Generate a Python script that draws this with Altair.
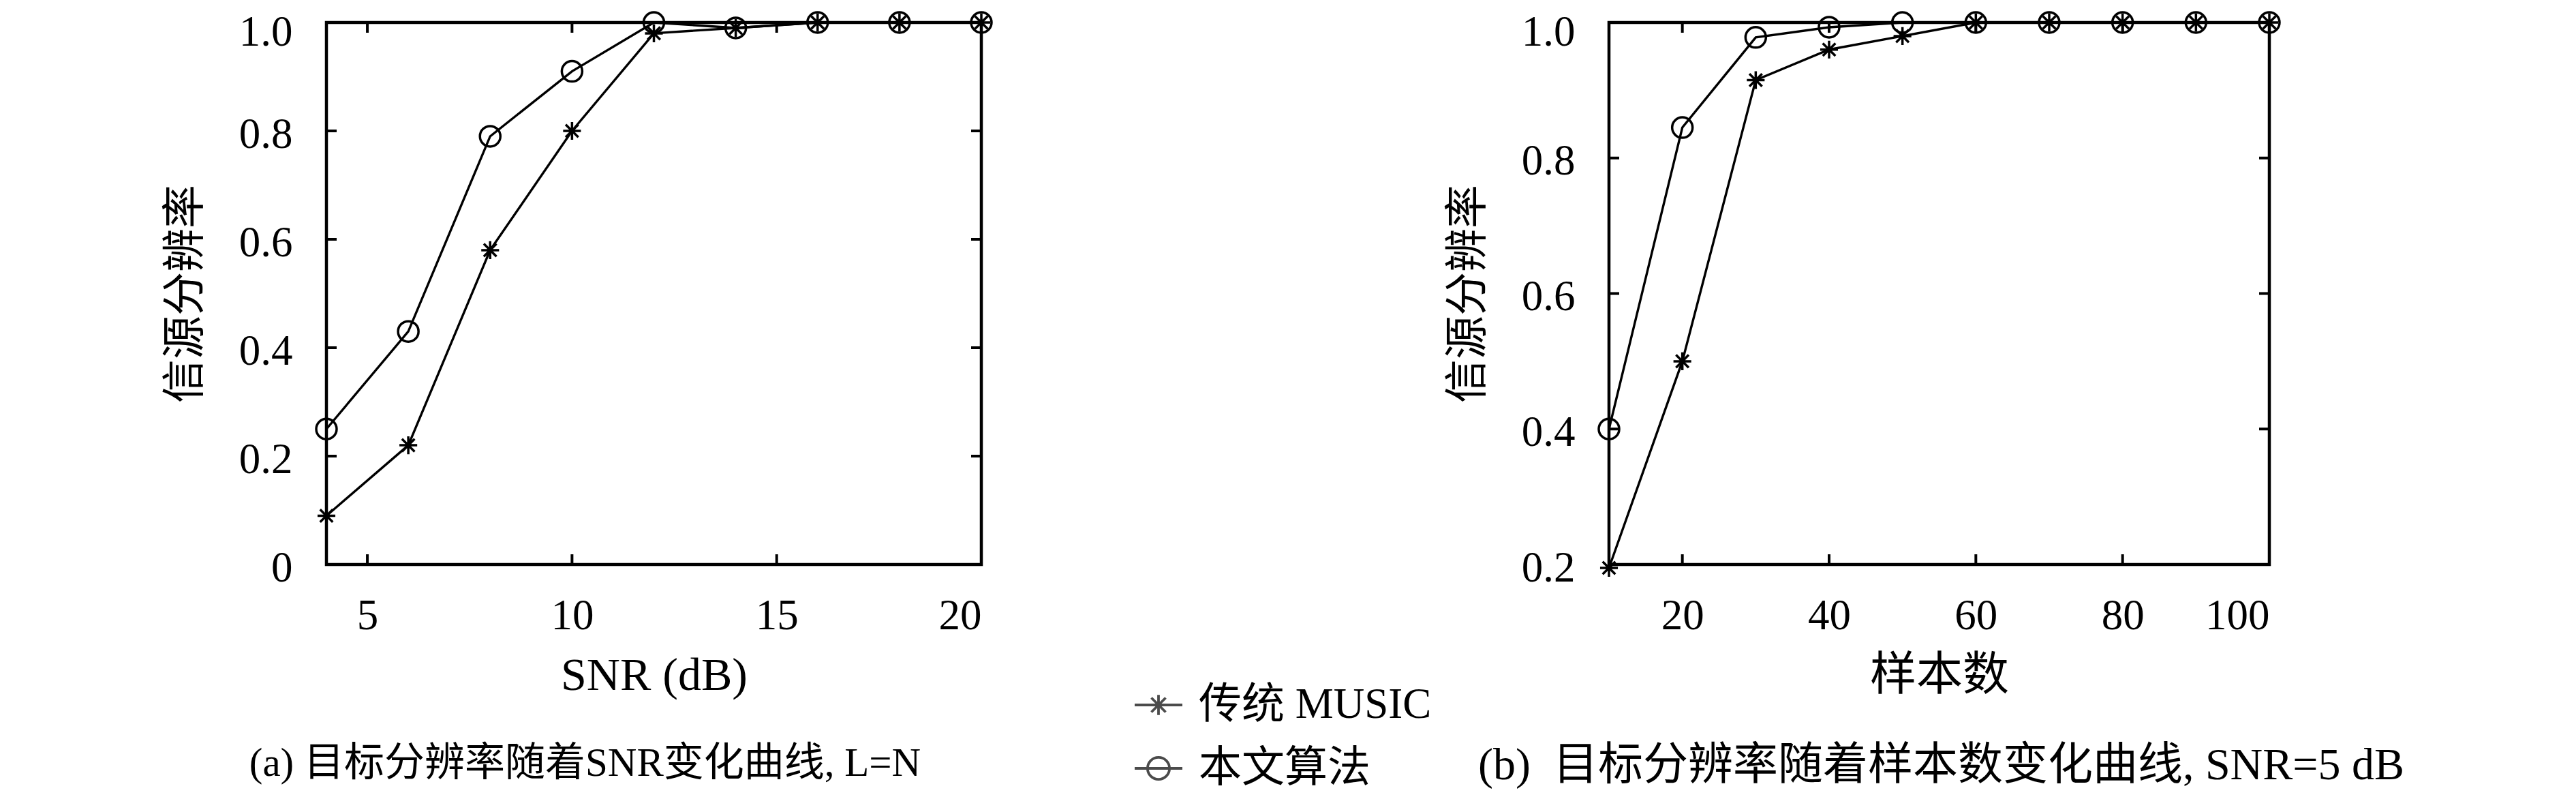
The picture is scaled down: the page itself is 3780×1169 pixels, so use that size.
import altair as alt
import pandas as pd

FONT = "Liberation Serif, Noto Sans CJK SC"
FS = 63

series_names = ["传统 MUSIC", "本文算法"]

# Panel (a): resolution vs SNR
snr = [4, 6, 8, 10, 12, 14, 16, 18, 20]
music_snr = [0.09, 0.22, 0.58, 0.80, 0.98, 0.99, 1.0, 1.0, 1.0]
ours_snr = [0.25, 0.43, 0.79, 0.91, 1.0, 0.99, 1.0, 1.0, 1.0]
snr_ticks = [5, 10, 15, 20]
acc_ticks_a = [0, 0.2, 0.4, 0.6, 0.8, 1.0]

# Panel (b): resolution vs number of samples
samples = [10, 20, 30, 40, 50, 60, 70, 80, 90, 100]
music_samples = [0.195, 0.50, 0.915, 0.96, 0.98, 1.0, 1.0, 1.0, 1.0, 1.0]
ours_samples = [0.40, 0.845, 0.978, 0.993, 1.0, 1.0, 1.0, 1.0, 1.0, 1.0]
sample_ticks = [20, 40, 60, 80, 100]
acc_ticks_b = [0.2, 0.4, 0.6, 0.8, 1.0]

y_title = "信源分辨率"
caption_a = "(a) 目标分辨率随着SNR变化曲线, L=N"
caption_b = "(b)\u2002目标分辨率随着样本数变化曲线, SNR=5 dB"

AST = "M0,-0.87L0,0.87M-0.87,0L0.87,0M-0.62,-0.62L0.62,0.62M-0.62,0.62L0.62,-0.62"
LEG_AST = "M-1,0L1,0M0,-0.42L0,0.42M-0.3,-0.3L0.3,0.3M-0.3,0.3L0.3,-0.3"
LEG_CIR = "M-1,0L1,0M-0.46,0A0.46,0.46 0 1,0 0.46,0A0.46,0.46 0 1,0 -0.46,0"

H = 795


def panel(xv, s1, s2, xdom, ydom, xticks, yticks, xtitle, ylabel_expr,
          caption, cap_dx, cap_fs, W):
    rows = []
    for a, b in zip(xv, s1):
        rows.append({"x": a, "y": b, "series": series_names[0]})
    for a, b in zip(xv, s2):
        rows.append({"x": a, "y": b, "series": series_names[1]})
    df = pd.DataFrame(rows)
    xs = alt.Scale(domain=xdom, nice=False, zero=False)
    ys = alt.Scale(domain=ydom, nice=False, zero=False)
    xaxis = alt.Axis(values=xticks, title=xtitle, format="d", labelPadding=44,
                     titlePadding=22, titleFontSize=68, ticks=False, domain=False, grid=False)
    yaxis = alt.Axis(values=yticks, title=y_title, labelExpr=ylabel_expr,
                     labelPadding=50, titlePadding=46, titleFontSize=64,
                     labelOffset={"condition": {"test": "datum.value == 1", "value": 14},
                                  "value": 5},
                     ticks=False, domain=False, grid=False)
    xenc = alt.X("x:Q", scale=xs, axis=xaxis)
    yenc = alt.Y("y:Q", scale=ys, axis=yaxis)
    base = alt.Chart(df)
    lines = base.mark_line(color="black", strokeWidth=3.4).encode(
        x=xenc, y=yenc, detail="series:N")
    points = base.mark_point(filled=False, color="black", strokeWidth=3.5, size=900,
                             opacity=1).encode(
        x=xenc, y=yenc,
        shape=alt.Shape("series:N", scale=alt.Scale(domain=series_names, range=[AST, "circle"]),
                        legend=None))
    yt = pd.DataFrame({"y": yticks})
    xt = pd.DataFrame({"x": xticks})
    rule = dict(color="black", strokeWidth=4)
    yl = alt.Chart(yt).mark_rule(**rule).encode(y=yenc, x=alt.value(0), x2=alt.value(15))
    yr = alt.Chart(yt).mark_rule(**rule).encode(y=yenc, x=alt.value(W - 15), x2=alt.value(W))
    xb = alt.Chart(xt).mark_rule(**rule).encode(x=xenc, y=alt.value(H - 15), y2=alt.value(H))
    xtp = alt.Chart(xt).mark_rule(**rule).encode(x=xenc, y=alt.value(0), y2=alt.value(15))
    ch = alt.layer(lines, points, yl, yr, xb, xtp).properties(
        width=W, height=H,
        title=alt.TitleParams(caption, orient="bottom", anchor="middle", frame="group",
                              dx=cap_dx, offset=66, font=FONT, fontSize=cap_fs,
                              fontWeight="normal", color="black"))
    return ch


left = panel(snr, music_snr, ours_snr, [4, 20], [0, 1], snr_ticks, acc_ticks_a,
             "SNR (dB)", "datum.value == 0 ? '0' : format(datum.value, '.1f')",
             caption_a, -101, 59, 961)
right = panel(samples, music_samples, ours_samples, [10, 100], [0.2, 1.0], sample_ticks,
              acc_ticks_b, "样本数", "format(datum.value, '.1f')",
              caption_b, 3, 66, 969)

# Legend-only view placed between the two panels
leg_df = pd.DataFrame({"series": series_names})
legend_view = alt.Chart(leg_df).mark_point(
    filled=False, color="black", strokeWidth=3.8, size=4900, clip=True
).encode(
    x=alt.value(-2000), y=alt.value(-2000),
    shape=alt.Shape("series:N",
                    scale=alt.Scale(domain=series_names, range=[LEG_AST, LEG_CIR]),
                    legend=alt.Legend(
                        orient="none", legendX=-237, legendY=964, title=None,
                        symbolSize=4900, symbolStrokeWidth=3.8,
                        symbolStrokeColor="black", labelFont=FONT,
                        labelFontSize=FS, labelOffset=22, rowPadding=24,
                        padding=0, labelColor="black", labelLimit=0))
).properties(width=1, height=H, view=alt.ViewBackground(strokeOpacity=0, strokeWidth=0))

chart = alt.hconcat(left, legend_view, right, spacing=460, bounds="flush").resolve_scale(
    x="independent", y="independent", shape="independent"
).configure_view(stroke="black", strokeWidth=4.5).configure_axis(
    labelFont=FONT, labelFontSize=FS, titleFont=FONT, titleFontSize=FS,
    titleFontWeight="normal", labelColor="black", titleColor="black"
).properties(padding={"left": 230, "top": 0, "right": 0, "bottom": 0},
             background="white")

chart.save("out.html", embed_options={"renderer": "svg", "actions": False})
